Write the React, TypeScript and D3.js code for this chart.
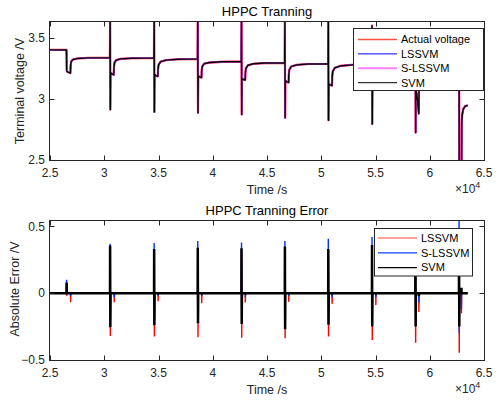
import { useEffect, useRef } from 'react';
import * as d3 from 'd3';

// ==========================================
// DATA (time in seconds, voltage in V)
// ==========================================
const voltTime = [
    25000, 26520,
    26540, 26560, 26700, 26880, 26900, 26950, 27100, 27500, 28500, 30520,
    30540, 30560, 30580, 30700, 30880, 30900, 30950, 31100, 31500, 32500, 34580,
    34600, 34620, 34640, 34760, 34940, 34960, 35010, 35200, 35700, 36800, 38600,
    38620, 38640, 38660, 38780, 38960, 38980, 39030, 39200, 39700, 40800, 42630,
    42650, 42670, 42690, 42810, 42990, 43010, 43060, 43250, 43750, 44800, 46630,
    46650, 46670, 46690, 46810, 46990, 47010, 47060, 47250, 47750, 48800, 50630,
    50650, 50670, 50690, 50810, 50990, 51010, 51060, 51250, 51750, 52800, 54660,
    54680, 54700, 54720, 54840, 55020, 55040, 55090, 55280, 55780, 56800, 58660,
    58680, 58700, 58720, 58800, 58900, 58990, 59010, 59060, 59250, 59750, 60800, 62680,
    62700, 62720, 62740, 62900, 62930, 62950, 62990, 63080, 63250, 63500,
];

const voltActual = [
    3.402, 3.401,
    3.24, 3.226, 3.218, 3.212, 3.27, 3.305, 3.322, 3.331, 3.336, 3.338,
    3.66, 2.913, 3.215, 3.205, 3.198, 3.265, 3.298, 3.318, 3.328, 3.333, 3.336,
    3.66, 2.894, 3.2, 3.19, 3.185, 3.245, 3.28, 3.305, 3.318, 3.325, 3.328,
    3.66, 2.886, 3.19, 3.18, 3.175, 3.23, 3.265, 3.288, 3.298, 3.304, 3.307,
    3.64, 2.873, 3.17, 3.16, 3.155, 3.215, 3.25, 3.276, 3.288, 3.294, 3.296,
    3.64, 2.845, 3.15, 3.14, 3.135, 3.2, 3.24, 3.266, 3.279, 3.286, 3.288,
    3.63, 2.826, 3.125, 3.115, 3.11, 3.18, 3.225, 3.255, 3.27, 3.279, 3.282,
    3.6, 2.794, 3.1, 3.09, 3.08, 3.15, 3.19, 3.22, 3.237, 3.245, 3.248,
    3.55, 2.725, 3.07, 3.04, 2.97, 2.88, 3.06, 3.12, 3.16, 3.18, 3.19, 3.195,
    3.5, 2.35, 2.45, 2.4, 2.4, 2.8, 2.87, 2.915, 2.94, 2.948,
];

// error spikes: at each pulse and at the end of each discharge step
const pulseTime = [26530, 30540, 34600, 38620, 42650, 46650, 50650, 54680, 58680, 62700];
const stepTime = [26900, 30920, 34960, 38980, 43000, 47000, 51000, 55030, 59000, 62920];

const lssvmUp = [0.05, 0.3, 0.3, 0.32, 0.32, 0.33, 0.33, 0.35, 0.4, 0.45];
const lssvmDown = [-0.02, -0.32, -0.325, -0.33, -0.333, -0.337, -0.325, -0.35, -0.37, -0.445];
const lssvmStep = [-0.067, -0.067, -0.06, -0.075, -0.07, -0.065, -0.08, -0.088, -0.14, -0.15];

const slssvmUp = [0.1, 0.37, 0.375, 0.39, 0.38, 0.39, 0.407, 0.42, 0.45, 0.6];
const slssvmDown = [-0.01, -0.2, -0.2, -0.2, -0.2, -0.2, -0.2, -0.22, -0.22, -0.3];
const slssvmStep = [-0.02, -0.03, -0.02, -0.02, -0.03, -0.02, -0.03, -0.03, -0.07, -0.12];

const svmUp = [0.08, 0.357, 0.33, 0.34, 0.337, 0.35, 0.33, 0.36, 0.38, 0.4];
const svmDown = [0, -0.255, -0.24, -0.225, -0.23, -0.27, -0.237, -0.25, -0.25, -0.25];
const svmStep = [0, -0.01, -0.01, -0.01, -0.01, -0.01, -0.01, -0.01, -0.02, 0.04];

const xTicks = [25000, 30000, 35000, 40000, 45000, 50000, 55000, 60000, 65000];
const voltTicks = [2.5, 3, 3.5];
const errTicks = [-0.5, 0, 0.5];

const voltLegend = ['Actual voltage', 'LSSVM', 'S-LSSVM', 'SVM'];
const errLegend = ['LSSVM', 'S-LSSVM', 'SVM'];

const FONT = '"Liberation Sans", Arial, Helvetica, sans-serif';
const AXIS = '#262626';

const errorPoints = (up: number[], down: number[], step: number[]) => {
    const pts: [number, number][] = [[25000, 0]];
    pulseTime.forEach((t, i) => {
        pts.push([t - 10, 0], [t, up[i]], [t + 20, down[i]], [t + 40, 0]);
        pts.push([stepTime[i] - 10, 0], [stepTime[i], step[i]], [stepTime[i] + 20, 0]);
    });
    pts.push([63500, 0]);
    return pts;
};

const App = () => {
    const svgRef = useRef<SVGSVGElement>(null);

    useEffect(() => {
        const svg = d3.select(svgRef.current);
        svg.selectAll('*').remove();

        const width = 501;
        const height = 401;
        const left = 50;
        const right = 484;

        svg.attr('width', width).attr('height', height);

        svg.append('rect')
            .attr('width', width)
            .attr('height', height)
            .attr('fill', '#ffffff');

        const x = d3.scaleLinear().domain([25000, 65000]).range([left, right]);

        // ==========================================
        // AXES PANEL
        // ==========================================
        const panel = (opts: {
            id: string;
            top: number;
            bottom: number;
            domain: [number, number];
            ticks: number[];
            title: string;
            ylabel: string;
            ylabelX: number;
            ylabelY: number;
        }) => {
            const y = d3.scaleLinear().domain(opts.domain).range([opts.bottom, opts.top]);
            const g = svg.append('g');

            g.append('clipPath')
                .attr('id', opts.id)
                .append('rect')
                .attr('x', left)
                .attr('y', opts.top)
                .attr('width', right - left)
                .attr('height', opts.bottom - opts.top);

            const plot = g.append('g').attr('clip-path', `url(#${opts.id})`);
            const frame = g.append('g');

            // ticks (inward, mirrored)
            xTicks.forEach(t => {
                const px = Math.round(x(t)) + 0.5;
                frame.append('line')
                    .attr('x1', px).attr('x2', px)
                    .attr('y1', opts.bottom).attr('y2', opts.bottom - 4.5)
                    .attr('stroke', AXIS);
                frame.append('line')
                    .attr('x1', px).attr('x2', px)
                    .attr('y1', opts.top).attr('y2', opts.top + 4.5)
                    .attr('stroke', AXIS);
                frame.append('text')
                    .attr('x', x(t))
                    .attr('y', opts.bottom + 17)
                    .attr('text-anchor', 'middle')
                    .attr('font-size', 12)
                    .attr('fill', AXIS)
                    .text(d3.format('~g')(t / 10000));
            });

            opts.ticks.forEach(v => {
                const py = Math.round(y(v)) + 0.5;
                frame.append('line')
                    .attr('x1', left).attr('x2', left + 4.5)
                    .attr('y1', py).attr('y2', py)
                    .attr('stroke', AXIS);
                frame.append('line')
                    .attr('x1', right).attr('x2', right - 4.5)
                    .attr('y1', py).attr('y2', py)
                    .attr('stroke', AXIS);
                frame.append('text')
                    .attr('x', left - 5)
                    .attr('y', y(v))
                    .attr('dy', '0.35em')
                    .attr('text-anchor', 'end')
                    .attr('font-size', 12)
                    .attr('fill', AXIS)
                    .text(d3.format('~g')(v));
            });

            frame.append('rect')
                .attr('x', left - 0.5)
                .attr('y', opts.top - 0.5)
                .attr('width', right - left + 1)
                .attr('height', opts.bottom - opts.top + 1)
                .attr('fill', 'none')
                .attr('stroke', AXIS)
                .attr('stroke-width', 1);

            // ×10^4 exponent
            const ex = frame.append('text')
                .attr('x', 455)
                .attr('y', opts.bottom + 33)
                .attr('font-size', 12)
                .attr('fill', AXIS);
            ex.append('tspan').text('×10');
            ex.append('tspan').attr('font-size', 9).attr('dy', -5).text('4');

            frame.append('text')
                .attr('x', (left + right) / 2)
                .attr('y', opts.bottom + 34)
                .attr('text-anchor', 'middle')
                .attr('font-size', 12.5)
                .attr('fill', AXIS)
                .text('Time /s');

            frame.append('text')
                .attr('transform', 'rotate(-90)')
                .attr('x', -opts.ylabelY)
                .attr('y', opts.ylabelX)
                .attr('text-anchor', 'middle')
                .attr('font-size', 12.5)
                .attr('fill', AXIS)
                .text(opts.ylabel);

            frame.append('text')
                .attr('x', (left + right) / 2)
                .attr('y', opts.top - 6.5)
                .attr('text-anchor', 'middle')
                .attr('font-size', 13)
                .attr('fill', '#000000')
                .text(opts.title);

            return { y, plot, frame };
        };

        const legend = (
            frame: d3.Selection<SVGGElement, unknown, null, undefined>,
            box: { x: number; y: number; w: number; h: number; rowY: number; gap: number; lineX: number },
            names: string[],
            colors: string[],
            widths: number[]
        ) => {
            frame.append('rect')
                .attr('x', box.x)
                .attr('y', box.y)
                .attr('width', box.w)
                .attr('height', box.h)
                .attr('fill', '#ffffff')
                .attr('stroke', AXIS)
                .attr('stroke-width', 1);
            names.forEach((n, i) => {
                const ly = box.rowY + i * box.gap;
                frame.append('line')
                    .attr('x1', box.lineX).attr('x2', box.lineX + 39)
                    .attr('y1', ly).attr('y2', ly)
                    .attr('stroke', colors[i])
                    .attr('stroke-width', widths[i]);
                frame.append('text')
                    .attr('x', box.lineX + 43)
                    .attr('y', ly)
                    .attr('dy', '0.35em')
                    .attr('font-size', 11)
                    .attr('fill', '#000000')
                    .text(n);
            });
        };

        // ==========================================
        // TOP: TERMINAL VOLTAGE
        // ==========================================
        const top = panel({
            id: 'clip-volt',
            top: 22,
            bottom: 160,
            domain: [2.5, 3.63],
            ticks: voltTicks,
            title: 'HPPC Tranning',
            ylabel: 'Terminal voltage /V',
            ylabelX: 24,
            ylabelY: 91,
        });

        const voltPts = voltTime.map((t, i) => [t, voltActual[i]] as [number, number]);
        const voltLine = d3.line<[number, number]>()
            .x(d => x(d[0]))
            .y(d => top.y(d[1]));

        // the three models follow the measured voltage within line width
        const voltSeries = [
            { color: '#ff2a1a', width: 2.2 },
            { color: '#0000ff', width: 1.2 },
            { color: '#ff55ff', width: 1.9 },
            { color: '#000000', width: 1.4 },
        ];
        voltSeries.forEach(s => {
            top.plot.append('path')
                .attr('d', voltLine(voltPts))
                .attr('fill', 'none')
                .attr('stroke', s.color)
                .attr('stroke-width', s.width)
                .attr('stroke-linejoin', 'round');
        });

        legend(
            top.frame,
            { x: 353.5, y: 28.5, w: 130, h: 62, rowY: 39.5, gap: 14.4, lineX: 358 },
            voltLegend,
            ['#ff5040', '#0000ff', '#ff80ff', '#000000'],
            [1.5, 1, 2, 1]
        );

        // ==========================================
        // BOTTOM: ABSOLUTE ERROR
        // ==========================================
        const bot = panel({
            id: 'clip-err',
            top: 221,
            bottom: 360,
            domain: [-0.5, 0.54],
            ticks: errTicks,
            title: 'HPPC Tranning Error',
            ylabel: 'Absolute Error /V',
            ylabelX: 19,
            ylabelY: 289,
        });

        const errLine = d3.line<[number, number]>()
            .x(d => x(d[0]))
            .y(d => bot.y(d[1]));

        const errSeries = [
            { pts: errorPoints(lssvmUp, lssvmDown, lssvmStep), color: '#ff0000', width: 1.4 },
            { pts: errorPoints(slssvmUp, slssvmDown, slssvmStep), color: '#0033ff', width: 1.4 },
            { pts: errorPoints(svmUp, svmDown, svmStep), color: '#000000', width: 2.5 },
        ];
        errSeries.forEach(s => {
            bot.plot.append('path')
                .attr('d', errLine(s.pts))
                .attr('fill', 'none')
                .attr('stroke', s.color)
                .attr('stroke-width', s.width);
        });

        legend(
            bot.frame,
            { x: 374.5, y: 228.5, w: 98, h: 47.5, rowY: 238, gap: 14.8, lineX: 378 },
            errLegend,
            ['#ff4030', '#1040ff', '#000000'],
            [1.2, 1.2, 1.2]
        );
    }, []);

    return (
        <div style={{ position: 'absolute', left: 0, top: 0, width: 501, height: 401 }}>
            <svg ref={svgRef} style={{ display: 'block', fontFamily: FONT }}></svg>
        </div>
    );
};

export default App;
